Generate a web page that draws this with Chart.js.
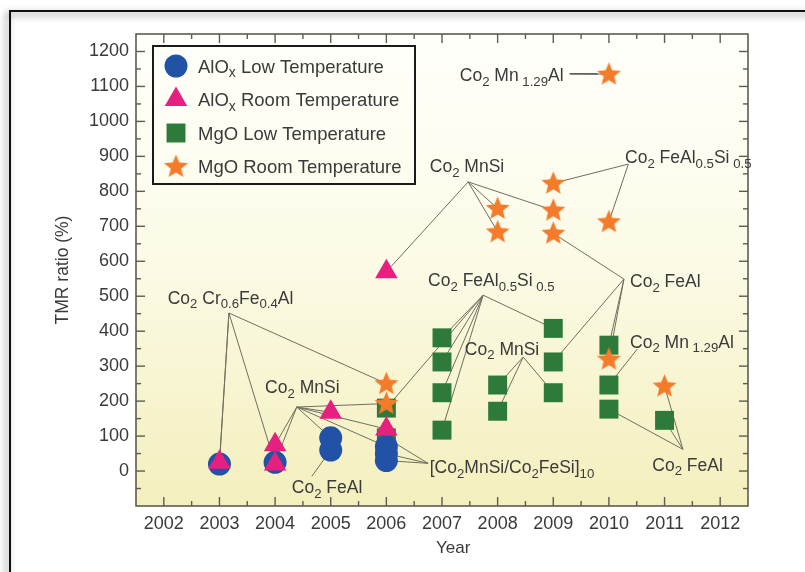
<!DOCTYPE html>
<html>
<head>
<meta charset="utf-8">
<script src="https://cdn.jsdelivr.net/npm/chart.js@4.4.1/dist/chart.umd.min.js"></script>
<style>
  html, body { margin: 0; padding: 0; background: #fff; }
  canvas { display: block; }
</style>
</head>
<body>
<canvas id="tmr" width="805" height="572"></canvas>
<script>
// ---- TMR ratio (%) of Heusler-alloy junctions by year ----
const aloxLowYears  = [2003, 2004, 2005, 2005, 2006, 2006, 2006];
const aloxLowTmr    = [20, 25, 95, 60, 70, 50, 30];

const aloxRoomYears = [2003, 2004, 2004, 2005, 2006, 2006];
const aloxRoomTmr   = [25, 75, 20, 168, 120, 570];

const mgoLowYears   = [2006, 2006, 2007, 2007, 2007, 2007, 2008, 2008, 2009, 2009, 2009, 2010, 2010, 2010, 2011];
const mgoLowTmr     = [180, 95, 381, 312, 224, 117, 246, 171, 408, 312, 224, 360, 246, 177, 145];

const mgoRoomYears  = [2006, 2006, 2008, 2008, 2009, 2009, 2009, 2010, 2010, 2010, 2011];
const mgoRoomTmr    = [250, 193, 751, 684, 823, 746, 680, 1135, 713, 320, 243];

// legend entries: [text, subscript?] segments
const seriesNames = [
  [['AlO', 0], ['x', 1], [' Low Temperature', 0]],
  [['AlO', 0], ['x', 1], [' Room Temperature', 0]],
  [['MgO Low Temperature', 0]],
  [['MgO Room Temperature', 0]]
];

const yearTicks = [2002, 2003, 2004, 2005, 2006, 2007, 2008, 2009, 2010, 2011, 2012];
const tmrTicks  = [0, 100, 200, 300, 400, 500, 600, 700, 800, 900, 1000, 1100, 1200];

// alloy labels: text segments, text anchor (year, TMR), hub point, and the
// points each leader line runs to as [series, index]
const alloyLabels = [
  { seg: [['Co', 0], ['2', 1], [' Cr', 0], ['0.6', 1], ['Fe', 0], ['0.4', 1], ['Al', 0]],
    at: [2002.07, 497], hub: [2003.17, 452], to: [[0, 0], [1, 0], [1, 2], [3, 0]] },
  { seg: [['Co', 0], ['2', 1], [' MnSi', 0]],
    at: [2003.82, 240], hub: [2004.39, 183], to: [[1, 1], [0, 1], [0, 2], [1, 3], [3, 1], [1, 4], [0, 4]] },
  { seg: [['Co', 0], ['2', 1], [' FeAl', 0]],
    at: [2004.30, -46], hub: [2004.66, -15], to: [[0, 3]] },
  { seg: [['[Co', 0], ['2', 1], ['MnSi/Co', 0], ['2', 1], ['FeSi]', 0], ['10', 1]],
    at: [2006.78, 11], hub: [2006.75, 22], to: [[0, 5], [0, 6], [2, 1]] },
  { seg: [['Co', 0], ['2', 1], [' MnSi', 0]],
    at: [2006.78, 872], hub: [2007.47, 827], to: [[1, 5], [3, 2], [3, 3], [3, 5]] },
  { seg: [['Co', 0], ['2', 1], [' FeAl', 0], ['0.5', 1], ['Si', 0], [' 0.5', 1]],
    at: [2010.29, 898], hub: [2010.35, 878], to: [[3, 4], [3, 8]] },
  { seg: [['Co', 0], ['2', 1], [' Mn', 0], [' 1.29', 1], ['Al', 0]],
    at: [2007.32, 1133], hub: [2009.30, 1136], to: [[3, 7]] },
  { seg: [['Co', 0], ['2', 1], [' FeAl', 0], ['0.5', 1], ['Si', 0], [' 0.5', 1]],
    at: [2006.75, 546], hub: [2007.74, 503], to: [[2, 0], [2, 2], [2, 3], [2, 4], [2, 5], [2, 8]] },
  { seg: [['Co', 0], ['2', 1], [' MnSi', 0]],
    at: [2007.41, 351], hub: [2008.46, 326], to: [[2, 6], [2, 7], [2, 10]] },
  { seg: [['Co', 0], ['2', 1], [' FeAl', 0]],
    at: [2010.38, 543], hub: [2010.27, 549], to: [[3, 6], [2, 9], [2, 11], [3, 9]] },
  { seg: [['Co', 0], ['2', 1], [' Mn', 0], [' 1.29', 1], ['Al', 0]],
    at: [2010.38, 371], hub: [2010.51, 349], to: [[2, 12]] },
  { seg: [['Co', 0], ['2', 1], [' FeAl', 0]],
    at: [2010.78, 19], hub: [2011.33, 62], to: [[2, 13], [2, 14], [3, 10]] }
];

const FONT = '"Liberation Sans", Arial, Helvetica, sans-serif';
const TEXT = '#3a3a3a';
const MAIN_PX = 17.5, SUB_PX = 13.2, LEGEND_PX = 18.5, TICK_PX = 18;

function pairs(xs, ys) { return xs.map((x, i) => ({ x: x, y: ys[i] })); }

// filled five-point star used as a point image
function makeStar(color, R, r) {
  const size = Math.ceil(R * 2) + 2;
  const cv = document.createElement('canvas');
  cv.width = cv.height = size;
  const g = cv.getContext('2d');
  g.fillStyle = color;
  g.beginPath();
  for (let i = 0; i < 10; i++) {
    const ang = -Math.PI / 2 + i * Math.PI / 5;
    const rad = i % 2 ? r : R;
    g.lineTo(size / 2 + rad * Math.cos(ang), size / 2 + rad * Math.sin(ang) + 0.5);
  }
  g.closePath();
  g.fill();
  return cv;
}
const starImg = makeStar('#f47b2a', 12.5, 5.6);

// draws a run of normal / subscript segments; y is the middle of the main text
function drawRich(ctx, seg, x, y, px) {
  const main = px || MAIN_PX;
  const sub = main * SUB_PX / MAIN_PX;
  let cx = x;
  ctx.textBaseline = 'alphabetic';
  ctx.textAlign = 'left';
  const base = y + main * 0.36;
  seg.forEach(([t, isSub]) => {
    ctx.font = (isSub ? sub : main) + 'px ' + FONT;
    ctx.fillText(t, cx, isSub ? base + main * 0.26 : base);
    cx += ctx.measureText(t).width;
  });
  return cx;
}

const canvasDecor = {
  id: 'canvasDecor',
  beforeDraw(chart) {
    const { ctx, chartArea: a } = chart;
    ctx.save();
    ctx.fillStyle = '#fff';
    ctx.fillRect(0, 0, chart.width, chart.height);
    // outer frame with a soft drop shadow
    ctx.shadowColor = 'rgba(0,0,0,0.55)';
    ctx.shadowBlur = 7;
    ctx.shadowOffsetX = -3;
    ctx.shadowOffsetY = 3;
    ctx.strokeStyle = '#111';
    ctx.lineWidth = 2;
    ctx.strokeRect(10, 11, chart.width + 20, chart.height + 20);
    ctx.restore();
    // plot background
    ctx.save();
    const grad = ctx.createLinearGradient(0, a.top, 0, a.bottom);
    grad.addColorStop(0, '#fffffb');
    grad.addColorStop(0.45, '#fcfbe8');
    grad.addColorStop(1, '#f3efbd');
    ctx.fillStyle = grad;
    ctx.fillRect(a.left, a.top, a.width, a.height);
    ctx.restore();
  },
  beforeDatasetsDraw(chart) {
    const { ctx, chartArea: a, scales: { x, y } } = chart;
    ctx.save();
    // leader lines from each label hub to its points
    ctx.strokeStyle = '#6f6f60';
    ctx.lineWidth = 1;
    alloyLabels.forEach(lb => {
      const hx = x.getPixelForValue(lb.hub[0]);
      const hy = y.getPixelForValue(lb.hub[1]);
      lb.to.forEach(([s, i]) => {
        const p = chart.data.datasets[s].data[i];
        ctx.beginPath();
        ctx.moveTo(hx, hy);
        ctx.lineTo(x.getPixelForValue(p.x), y.getPixelForValue(p.y));
        ctx.stroke();
      });
    });
    // inward ticks on all four sides
    ctx.strokeStyle = '#5c5c52';
    ctx.lineWidth = 1.4;
    const seg = (x1, y1, x2, y2) => { ctx.beginPath(); ctx.moveTo(x1, y1); ctx.lineTo(x2, y2); ctx.stroke(); };
    for (let v = 2002; v <= 2012.01; v += 0.5) {
      const px = x.getPixelForValue(v);
      const len = Number.isInteger(v) ? 9 : 5;
      seg(px, a.bottom, px, a.bottom - len);
      seg(px, a.top, px, a.top + len);
    }
    for (let v = -50; v <= 1200; v += 50) {
      const py = y.getPixelForValue(v);
      const len = v % 100 === 0 ? 9 : 5;
      seg(a.left, py, a.left + len, py);
      seg(a.right, py, a.right - len, py);
    }
    ctx.lineWidth = 1.6;
    ctx.strokeRect(a.left, a.top, a.width, a.height);
    ctx.restore();
  },
  afterDatasetsDraw(chart) {
    const { ctx, chartArea: a, scales: { x, y } } = chart;
    ctx.save();
    ctx.fillStyle = TEXT;
    alloyLabels.forEach(lb => {
      lb.end = drawRich(ctx, lb.seg, x.getPixelForValue(lb.at[0]), y.getPixelForValue(lb.at[1]));
    });
    // short rule after the top Co2Mn1.29Al label
    const top = alloyLabels[6];
    ctx.strokeStyle = '#444';
    ctx.lineWidth = 1.2;
    ctx.beginPath();
    ctx.moveTo(top.end + 6, y.getPixelForValue(top.hub[1]));
    ctx.lineTo(x.getPixelForValue(2009.8), y.getPixelForValue(top.hub[1]));
    ctx.stroke();

    // x-axis title
    ctx.fillStyle = TEXT;
    ctx.font = '17px ' + FONT;
    ctx.textAlign = 'center';
    ctx.textBaseline = 'middle';
    ctx.fillText('Year', x.getPixelForValue(2007.2), 548);

    // legend box
    const bx = a.left + 17, by = a.top + 12, bw = 262, bh = 138;
    ctx.strokeStyle = '#1a1a1a';
    ctx.lineWidth = 2;
    ctx.strokeRect(bx, by, bw, bh);
    chart.data.datasets.forEach((ds, i) => {
      const cy = by + 20 + i * 33.5;
      ctx.save();
      ctx.fillStyle = ds.backgroundColor;
      Chart.helpers.drawPoint(ctx, { pointStyle: ds.pointStyle, radius: ds.pointRadius, rotation: 0, borderWidth: 0 }, bx + 23, cy);
      ctx.restore();
      ctx.fillStyle = TEXT;
      drawRich(ctx, seriesNames[i], bx + 45, cy, LEGEND_PX);
    });
    ctx.restore();
  }
};

new Chart(document.getElementById('tmr'), {
  type: 'scatter',
  data: {
    datasets: [
      { label: 'AlOx Low Temperature', data: pairs(aloxLowYears, aloxLowTmr),
        pointStyle: 'circle', pointRadius: 11.5, backgroundColor: '#2152a6', borderWidth: 0, order: 2 },
      { label: 'AlOx Room Temperature', data: pairs(aloxRoomYears, aloxRoomTmr),
        pointStyle: 'triangle', pointRadius: 13, backgroundColor: '#e6207f', borderWidth: 0, order: 1 },
      { label: 'MgO Low Temperature', data: pairs(mgoLowYears, mgoLowTmr),
        pointStyle: 'rect', pointRadius: 13.4, backgroundColor: '#2d7a3a', borderWidth: 0, order: 3 },
      { label: 'MgO Room Temperature', data: pairs(mgoRoomYears, mgoRoomTmr),
        pointStyle: starImg, pointRadius: 12, backgroundColor: '#f47b2a', borderWidth: 0, order: 0 }
    ]
  },
  options: {
    responsive: false,
    animation: false,
    devicePixelRatio: 1,
    events: [],
    layout: { padding: { left: 0, top: 34, right: 57, bottom: 0 } },
    plugins: { legend: { display: false }, tooltip: { enabled: false } },
    scales: {
      x: {
        type: 'linear', min: 2001.5, max: 2012.5,
        afterFit: s => { s.height = 66; },
        afterBuildTicks: s => { s.ticks = yearTicks.map(v => ({ value: v })); },
        grid: { display: false }, border: { display: false },
        ticks: { color: TEXT, padding: -1, font: { family: FONT, size: TICK_PX }, callback: v => String(v) },
        title: { display: false }
      },
      y: {
        type: 'linear', min: -100, max: 1250,
        afterFit: s => { s.width = 136; },
        afterBuildTicks: s => { s.ticks = tmrTicks.map(v => ({ value: v })); },
        grid: { display: false }, border: { display: false },
        ticks: { color: TEXT, padding: -1, font: { family: FONT, size: TICK_PX }, callback: v => String(v) },
        title: { display: true, text: 'TMR ratio (%)', color: TEXT, padding: { top: 53 }, font: { family: FONT, size: 17.5 } }
      }
    }
  },
  plugins: [canvasDecor]
});
</script>
</body>
</html>
